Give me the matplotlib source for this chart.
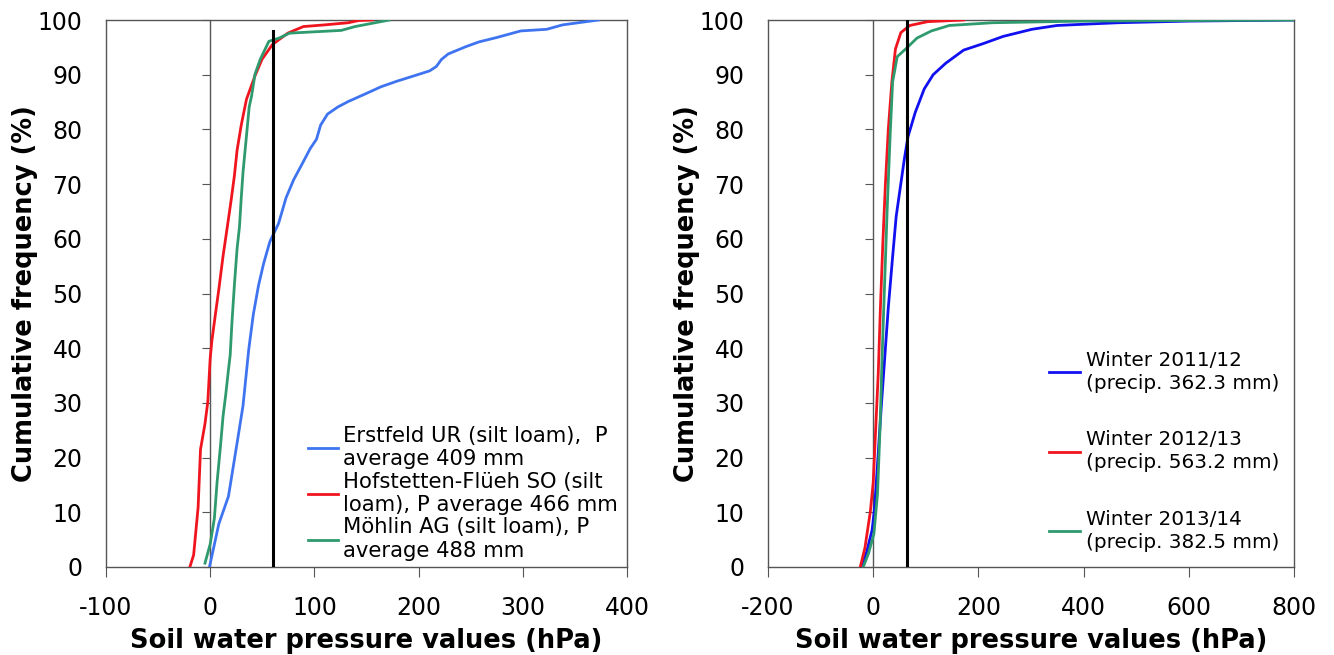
import matplotlib
matplotlib.use("Agg")
import matplotlib.pyplot as plt

plt.rcParams['font.family'] = ['DejaVu Sans']
plt.rcParams['axes.unicode_minus'] = False

# ---------------- data: left panel (sites) ----------------
erstfeld_x = [-0.7, 8.3, 17.5, 26.5, 31.5, 37, 41.4, 46.4, 51.3, 57.3, 65.6, 72.8, 80.1, 87.7,
              96, 102, 106, 112.6, 122.5, 132.5, 149, 164, 179, 200.7, 210.6, 217, 222, 228.5,
              245, 258, 275, 298, 323, 338, 372.5]
erstfeld_y = [0, 7.9, 12.9, 23.5, 29.5, 39.8, 46.2, 51.5, 55.5, 59.5, 62.8, 67.5, 70.8, 73.5,
              76.5, 78.2, 80.8, 82.8, 84.1, 85.1, 86.5, 87.8, 88.8, 90.1, 90.7, 91.5, 92.8, 93.8,
              95.1, 96, 96.8, 98, 98.3, 99.1, 100]

hofstetten_x = [-19.2, -15.9, -11.6, -9.3, -5, -2.3, 0, 1.7, 5, 8.3, 12.3, 15.9, 19.9, 23.2,
                25.8, 29.8, 34.8, 43, 49.7, 59.6, 74.5, 89.4, 109.3, 132.5, 142.4, 155.6]
hofstetten_y = [0.2, 2.2, 10.9, 21.5, 26.2, 30.2, 38.2, 41.5, 46.2, 50.8, 56.8, 61.5, 66.8, 71.5,
                76.2, 80.8, 85.5, 89.8, 92.8, 95.5, 97.6, 98.8, 99.1, 99.5, 99.9, 100]

moehlin_x = [-5, 0, 4, 6.6, 9.9, 12.3, 14.9, 17.2, 19.2, 20.9, 23.2, 25.8, 28.1, 29.8, 31.5,
             34.8, 37.4, 39.7, 43, 48, 56.3, 66.2, 76.2, 125.8, 139, 172]
moehlin_y = [0.7, 4.2, 8.9, 15.5, 22.2, 27.5, 31.5, 35.5, 38.8, 44.8, 51.5, 58.2, 62.2, 67.5, 72.2,
             78.8, 84.1, 86.1, 90.1, 92.8, 96.1, 96.7, 97.6, 98.1, 98.8, 100]

site_labels = ["Erstfeld UR (silt loam),  P\naverage 409 mm",
               "Hofstetten-Flüeh SO (silt\nloam), P average 466 mm",
               "Möhlin AG (silt loam), P\naverage 488 mm"]

# ---------------- data: right panel (winters) ----------------
w1112_x = [-22.5, -12.3, -2, 2.7, 8.2, 15, 21.8, 28.7, 36.9, 43.7, 50.5, 59.4, 66.2, 79.9, 97,
           114, 137.9, 172, 209.6, 247, 301.7, 349.5, 418, 465.5, 600, 802.7]
w1112_y = [0, 2.8, 6.8, 10.8, 18.8, 28.8, 38.1, 47.4, 56.7, 64.1, 68.7, 74.7, 78.7, 83.1, 87.4,
           90, 92.1, 94.5, 95.7, 97, 98.3, 99, 99.3, 99.5, 99.8, 100]

w1213_x = [-24.6, -15.7, -5.5, 0, 4.8, 9.6, 13.7, 18.4, 23.2, 28.7, 35.5, 42.3, 52.6, 69.6,
           103.8, 172]
w1213_y = [0, 3.5, 10.1, 15.4, 25.4, 35.4, 47.4, 59.4, 70, 80, 88.7, 94.7, 97.7, 99, 99.7, 100]

w1314_x = [-19, -8.9, 1.4, 8.2, 13, 17, 21.8, 26.6, 32.1, 36.9, 45.7, 62.8, 83.3, 110.6,
           144.7, 226.6, 397, 802.7]
w1314_y = [0, 2.5, 6.1, 13.4, 25.4, 38.7, 52.1, 65.4, 78.7, 88.7, 93.3, 94.8, 96.7, 98, 99,
           99.5, 99.8, 100]

winter_labels = ["Winter 2011/12\n(precip. 362.3 mm)",
                 "Winter 2012/13\n(precip. 563.2 mm)",
                 "Winter 2013/14\n(precip. 382.5 mm)"]

threshold_left = 60
threshold_left_top = 98
threshold_right = 65
threshold_right_top = 100

left_xticks = [-100, 0, 100, 200, 300, 400]
right_xticks = [-200, 0, 200, 400, 600, 800]
yticks = list(range(0, 101, 10))

# ---------------- styling ----------------
BLUE_L = "#3f74f0"
BLUE_R = "#1010f0"
RED = "#f0141e"
GREEN = "#2e9a6e"
FRAME = "#555555"

fig = plt.figure(figsize=(13.34, 6.55), dpi=100)
axL = fig.add_axes([106 / 1334, 88 / 655, 521 / 1334, 547 / 655])
axR = fig.add_axes([768 / 1334, 88 / 655, 526 / 1334, 547 / 655])

def style(ax, xlim, xticks):
    ax.set_xlim(*xlim)
    ax.set_ylim(0, 100)
    ax.set_xticks(xticks)
    ax.set_yticks(yticks)
    for s in ax.spines.values():
        s.set_color(FRAME)
        s.set_linewidth(1.0)
    ax.tick_params(axis='x', direction='out', length=7, color=FRAME, labelsize=17, pad=14)
    ax.tick_params(axis='y', length=0, labelsize=17, pad=17)
    ax.axvline(0, color=FRAME, lw=1.0, zorder=1)
    frac = (0 - xlim[0]) / (xlim[1] - xlim[0])
    sec = ax.secondary_yaxis(frac)
    sec.set_yticks(yticks)
    sec.tick_params(axis='y', direction='out', length=6, color=FRAME, labelleft=False,
                    labelright=False)
    sec.spines['left'].set_visible(False)
    sec.spines['right'].set_visible(False)
    ax.set_ylabel("Cumulative frequency (%)", fontsize=18.5, fontweight='bold', labelpad=0)
    ax.set_xlabel("Soil water pressure values (hPa)", fontsize=18.5, fontweight='bold', labelpad=6)

style(axL, (-100, 400), left_xticks)
style(axR, (-200, 800), right_xticks)

lw = 2.0
axL.plot(erstfeld_x, erstfeld_y, color=BLUE_L, lw=lw, label=site_labels[0], zorder=3)
axL.plot(hofstetten_x, hofstetten_y, color=RED, lw=lw, label=site_labels[1], zorder=3)
axL.plot(moehlin_x, moehlin_y, color=GREEN, lw=lw, label=site_labels[2], zorder=3)
axL.plot([threshold_left, threshold_left], [0, threshold_left_top], color='black', lw=2.2, zorder=4)

axR.plot(w1112_x, w1112_y, color=BLUE_R, lw=lw, label=winter_labels[0], zorder=3)
axR.plot(w1213_x, w1213_y, color=RED, lw=lw, label=winter_labels[1], zorder=3)
axR.plot(w1314_x, w1314_y, color=GREEN, lw=lw, label=winter_labels[2], zorder=3)
axR.plot([threshold_right, threshold_right], [0, threshold_right_top], color='black', lw=2.2, zorder=4)

legL = axL.legend(loc='lower right', bbox_to_anchor=(0.995, 0.0), frameon=False, fontsize=15.2,
                  handlelength=1.4, handletextpad=0.25, labelspacing=0.12, borderpad=0.2,
                  borderaxespad=0.1)
legR = axR.legend(loc='lower right', bbox_to_anchor=(0.995, 0.006), frameon=False, fontsize=14.4,
                  handlelength=1.55, handletextpad=0.3, labelspacing=1.87, borderpad=0.3,
                  borderaxespad=0.3)
for t in legR.get_texts():
    t.set_linespacing(1.27)

fig.savefig("out.png", dpi=100, facecolor='white')
